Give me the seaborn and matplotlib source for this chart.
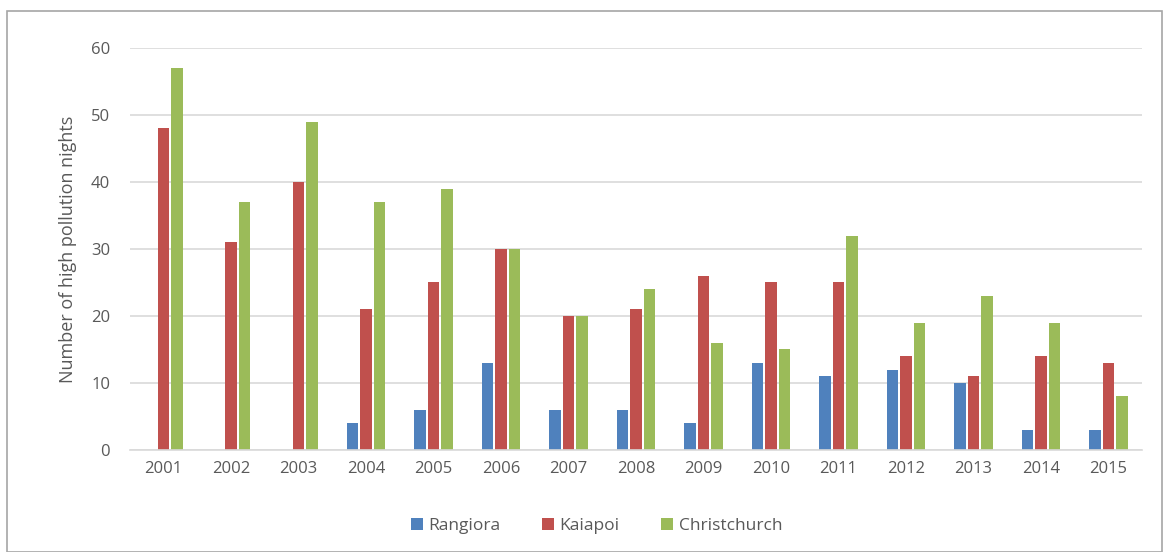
import matplotlib
matplotlib.use("Agg")
import matplotlib.pyplot as plt
import seaborn as sns
import pandas as pd
from matplotlib.patches import Rectangle

years = [str(y) for y in range(2001, 2016)]
rangiora = [0, 0, 0, 4, 6, 13, 6, 6, 4, 13, 11, 12, 10, 3, 3]
kaiapoi = [48, 31, 40, 21, 25, 30, 20, 21, 26, 25, 25, 14, 11, 14, 13]
christchurch = [57, 37, 49, 37, 39, 30, 20, 24, 16, 15, 32, 19, 23, 19, 8]
series = ["Rangiora", "Kaiapoi", "Christchurch"]
colors = ["#4F81BD", "#C0504D", "#9BBB59"]
yticks = [0, 10, 20, 30, 40, 50, 60]

rows = []
for name, vals in zip(series, [rangiora, kaiapoi, christchurch]):
    for y, v in zip(years, vals):
        rows.append({"Year": y, "Site": name, "Nights": v})
df = pd.DataFrame(rows)

sns.set_theme(style="white")
plt.rcParams['font.family'] = ['Open Sans', 'DejaVu Sans']

fig = plt.figure(figsize=(11.68, 5.52), dpi=100)
ax = fig.add_axes([0.111, 0.185, 0.867, 0.728])

sns.barplot(data=df, x="Year", y="Nights", hue="Site", hue_order=series,
            palette=colors, width=0.6, gap=0.15, ax=ax, legend=True,
            saturation=1, errorbar=None, linewidth=0)

ax.set_xlim(-0.5, 14.5)
ax.set_ylim(0, 60)
ax.set_yticks(yticks)
ax.yaxis.grid(True, color="#D9D9D9", linewidth=1.2)
ax.set_axisbelow(True)
for s in ["top", "right", "left"]:
    ax.spines[s].set_visible(False)
ax.spines["bottom"].set_color("#D9D9D9")
ax.spines["bottom"].set_linewidth(1.2)
ax.tick_params(axis="both", length=0, colors="#595959", labelsize=12)
ax.tick_params(axis="x", pad=8)
ax.tick_params(axis="y", pad=14)
ax.set_xlabel("")
ax.set_ylabel("Number of high pollution nights", color="#595959", fontsize=13, labelpad=10)

leg = ax.legend(loc="center", bbox_to_anchor=(0.461, -0.19), ncol=3, frameon=False,
                fontsize=12.5, handlelength=0.7, handleheight=0.7, handletextpad=0.3,
                columnspacing=2.4)
for t in leg.get_texts():
    t.set_color("#595959")

fig.patches.append(Rectangle((7/1168, 0.0), 1155/1168, (552-11)/552, transform=fig.transFigure,
                             fill=False, edgecolor="#A6A6A6", linewidth=1.2, zorder=0))

fig.savefig("out.png", dpi=100)
